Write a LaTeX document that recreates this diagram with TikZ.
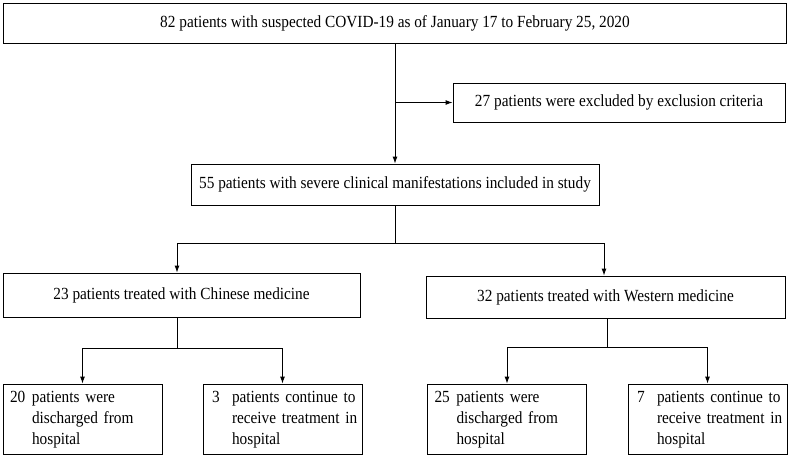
\documentclass[tikz,border=0pt]{standalone}
\usepackage{fontspec}
\setmainfont[FakeStretch=0.9]{Liberation Serif}
\usetikzlibrary{arrows.meta}
\begin{document}
\begin{tikzpicture}[x=1pt,y=-1pt,
  box/.style={draw, line width=0.9pt, inner sep=0pt, align=center},
  small/.style={box, minimum width=159pt, minimum height=70pt, text width=145pt, align=left},
  ln/.style={line width=0.9pt},
  arr/.style={line width=0.9pt, -{Latex[length=7pt,width=5pt]}},
  font=\fontsize{17}{21}\selectfont]
\useasboundingbox (0,0) rectangle (789,456);
\node[box, minimum width=783pt, minimum height=40pt] (top) at (395,23) {82 patients with suspected COVID-19 as of January 17 to February 25, 2020};
\node[box, minimum width=332pt, minimum height=39pt] (excl) at (619,102.5) {27 patients were excluded by exclusion criteria};
\node[box, minimum width=408pt, minimum height=41pt] (inc) at (395,184.5) {55 patients with severe clinical manifestations included in study};
\node[box, minimum width=357pt, minimum height=44pt] (chin) at (181.5,295) {23 patients treated with Chinese medicine};
\node[box, minimum width=359pt, minimum height=42pt] (west) at (605.5,297) {32 patients treated with Western medicine};
\node[small] (b1) at (82.5,419) {\begin{tabular}{@{}p{22pt}@{}l@{}}20&patients were\\&discharged from\\&hospital\end{tabular}};
\node[small] (b2) at (282.5,419) {\begin{tabular}{@{}p{22pt}@{}l@{}}\hspace{2pt}3&patients continue to\\&receive treatment in\\&hospital\end{tabular}};
\node[small] (b3) at (507,419) {\begin{tabular}{@{}p{22pt}@{}l@{}}25&patients were\\&discharged from\\&hospital\end{tabular}};
\node[small] (b4) at (707.5,419) {\begin{tabular}{@{}p{22pt}@{}l@{}}\hspace{2pt}7&patients continue to\\&receive treatment in\\&hospital\end{tabular}};
% top to included, with exclusion branch
\draw[arr] (top.south) -- (inc.north);
\coordinate (ex) at (395,102.5);
\draw[arr] (ex) -- (excl.west);
% fork to the two treatment groups
\coordinate (f1) at (395,243);
\coordinate (fL) at (177,243);
\coordinate (fR) at (604,243);
\draw[ln] (inc.south) -- (f1);
\draw[ln] (fL) -- (fR);
\draw[arr] (fL) -- (fL |- chin.north);
\draw[arr] (fR) -- (fR |- west.north);
% Chinese medicine outcomes
\coordinate (cs) at (177,348);
\draw[ln] (cs |- chin.south) -- (cs);
\draw[arr] (cs) -| (b1.north);
\draw[arr] (cs) -| (b2.north);
% Western medicine outcomes
\coordinate (ws) at (607,347);
\draw[ln] (ws |- west.south) -- (ws);
\draw[arr] (ws) -| (b3.north);
\draw[arr] (ws) -| (b4.north);
\end{tikzpicture}
\end{document}
